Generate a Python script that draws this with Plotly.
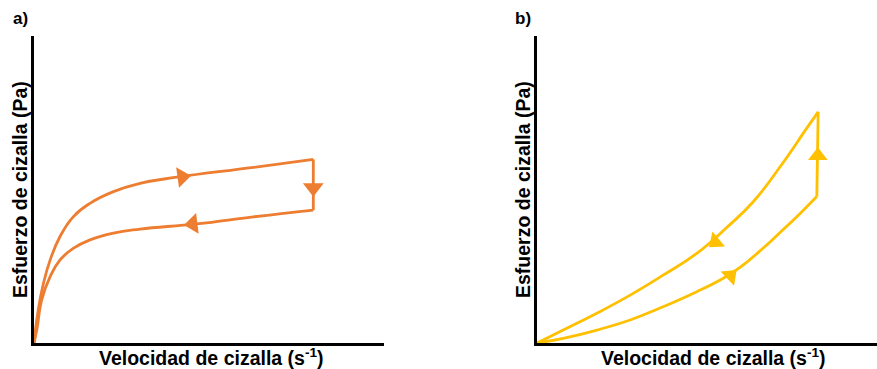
import plotly.graph_objects as go

# Panel a (thixotropic-like loop) - data coordinates in 0..100 units
a_up_x = [0, 1.2, 2.7, 4.6, 7.4, 11.2, 16.0, 22.7, 30.3, 40.8, 62.7, 79.8]
a_up_y = [0, 10.7, 19.4, 27.0, 34.6, 41.1, 45.5, 49.3, 52.0, 54.0, 57.2, 59.8]
a_down_x = [79.8, 62.7, 46.5, 30.3, 22.7, 16.0, 11.2, 7.4, 4.6, 2.2, 0.8, 0]
a_down_y = [43.3, 41.1, 38.8, 37.1, 35.8, 33.6, 30.8, 27.0, 21.6, 14.0, 4.2, 0]
a_arrow_x = [42.3, 79.8, 45.4]
a_arrow_y = [54.1, 50.6, 38.8]
a_arrow_ang = [82, 180, 263]

# Panel b (rheopectic-like loop)
b_up_x = [0, 7.7, 17.6, 27.4, 37.1, 47.0, 54.8, 59.7, 65.6, 71.5, 77.4, 82.3]
b_up_y = [0, 1.5, 4.2, 7.5, 11.8, 16.7, 21.1, 24.6, 30.0, 36.0, 42.2, 47.7]
b_top_x = [82.3, 82.7]
b_top_y = [47.7, 75.3]
b_down_x = [82.7, 79.3, 71.5, 63.6, 55.8, 47.0, 37.1, 27.4, 17.6, 7.7, 0]
b_down_y = [75.3, 69.9, 57.4, 46.0, 37.6, 29.2, 22.1, 15.6, 9.7, 4.2, 0]
b_arrow_x = [56.9, 82.6, 52.5]
b_arrow_y = [21.9, 61.0, 33.0]
b_arrow_ang = [47, 0, 230]

ORANGE = "#ED7D31"
YELLOW = "#FFC000"
FONT = "Liberation Sans, Arial, sans-serif"
LW = 2.8
SM = 1.3

fig = go.Figure()

def line(x, y, color, ax, spline=True):
    ln = dict(color=color, width=LW)
    if spline:
        ln.update(shape="spline", smoothing=SM)
    fig.add_trace(go.Scatter(x=x, y=y, mode="lines", line=ln, xaxis=ax[0], yaxis=ax[1], hoverinfo="skip"))

# panel a
line(a_up_x, a_up_y, ORANGE, ("x", "y"))
line([a_up_x[-1], a_down_x[0]], [a_up_y[-1], a_down_y[0]], ORANGE, ("x", "y"), spline=False)
line(a_down_x, a_down_y, ORANGE, ("x", "y"))
fig.add_trace(go.Scatter(x=a_arrow_x, y=a_arrow_y, mode="markers",
                         marker=dict(symbol="triangle-up", size=18, color=ORANGE, angle=a_arrow_ang, line=dict(width=0)),
                         xaxis="x", yaxis="y", hoverinfo="skip"))

# panel b
line(b_up_x, b_up_y, YELLOW, ("x2", "y2"))
line(b_top_x, b_top_y, YELLOW, ("x2", "y2"), spline=False)
line(b_down_x, b_down_y, YELLOW, ("x2", "y2"))
fig.add_trace(go.Scatter(x=b_arrow_x, y=b_arrow_y, mode="markers",
                         marker=dict(symbol="triangle-up", size=17, color=YELLOW, angle=b_arrow_ang, line=dict(width=0)),
                         xaxis="x2", yaxis="y2", hoverinfo="skip"))

W, H = 877, 369
ydom = [(H - 343) / H, (H - 36) / H]
axis_common = dict(showline=True, linecolor="black", linewidth=3, showgrid=False, zeroline=False,
                   showticklabels=False, ticks="", range=[0, 100], fixedrange=True)

fig.update_layout(
    width=W, height=H,
    margin=dict(l=0, r=0, t=0, b=0),
    paper_bgcolor="white", plot_bgcolor="white",
    showlegend=False,
    xaxis=dict(domain=[34 / W, 384 / W], anchor="y", **axis_common),
    yaxis=dict(domain=ydom, anchor="x", **axis_common),
    xaxis2=dict(domain=[537 / W, 1.0], anchor="y2", **axis_common),
    yaxis2=dict(domain=ydom, anchor="x2", **axis_common),
    font=dict(family=FONT, color="black"),
)

ann = []
def txt(x, y, s, size, angle=0):
    ann.append(dict(x=x / W, y=(H - y) / H, xref="paper", yref="paper", text=s, showarrow=False,
                    font=dict(size=size, family=FONT, color="black"), textangle=angle,
                    xanchor="center", yanchor="middle"))

txt(20, 18, "<b>a)</b>", 17)
txt(523, 18, "<b>b)</b>", 17)
txt(20, 190, "<b>Esfuerzo de cizalla (Pa)</b>", 19.5, -90)
txt(523, 190, "<b>Esfuerzo de cizalla (Pa)</b>", 19.5, -90)
txt(211, 357, "<b>Velocidad de cizalla (s<sup>-1</sup>)</b>", 19.5)
txt(713, 357, "<b>Velocidad de cizalla (s<sup>-1</sup>)</b>", 19.5)
fig.update_layout(annotations=ann)

fig.write_html("out.html", config={"displayModeBar": False},
               post_script="document.body.style.margin='0';document.body.style.padding='0';document.body.style.overflow='hidden';")
